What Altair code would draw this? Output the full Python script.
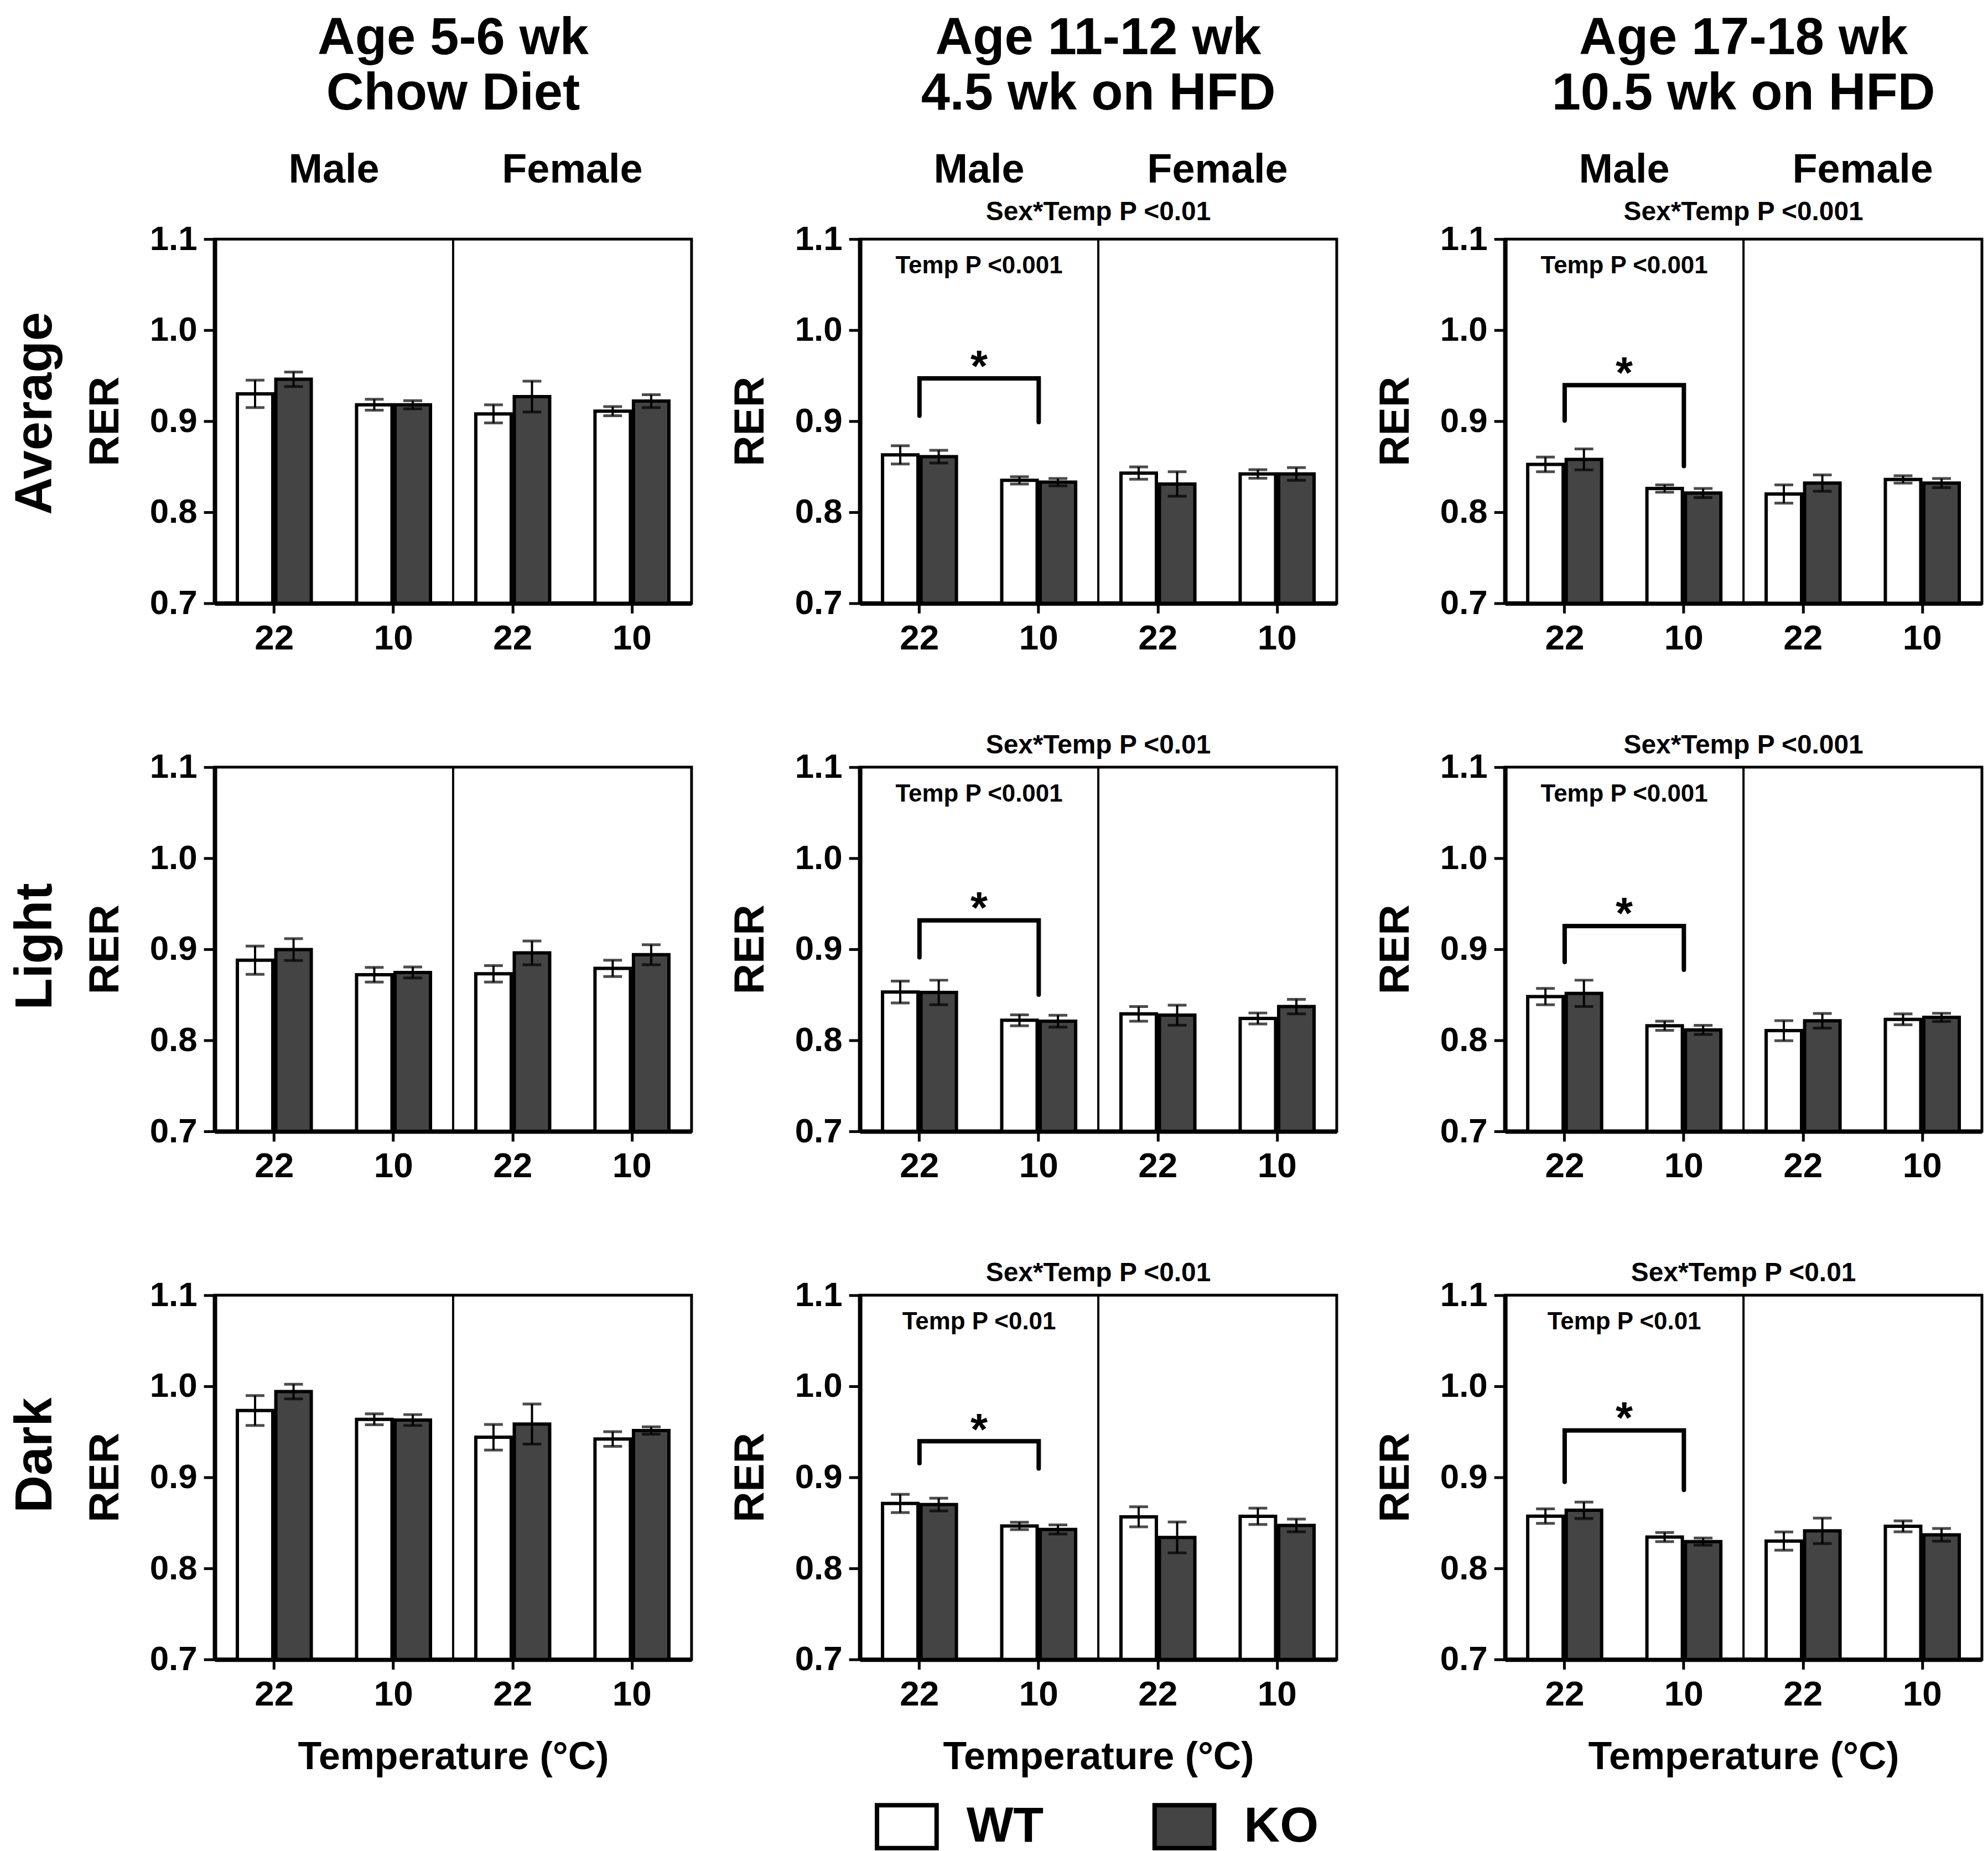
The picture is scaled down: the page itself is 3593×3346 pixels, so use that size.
import altair as alt
import pandas as pd

FONT = "Liberation Sans"
GROUPS = ["M22", "M10", "F22", "F10"]
GENOTYPES = ["WT", "KO"]
GENO_COLORS = ["#ffffff", "#444444"]
ROW_LABELS = ["Average", "Light", "Dark"]
COL_LINE1 = ["Age 5-6 wk", "Age 11-12 wk", "Age 17-18 wk"]
COL_LINE2 = ["Chow Diet", "4.5 wk on HFD", "10.5 wk on HFD"]
SEX_LABELS = ["Male", "Female"]
Y_TICKS = [0.7, 0.8, 0.9, 1.0, 1.1]

# ---- Average ----
AVG_CHOW_WT = [0.930, 0.918, 0.908, 0.911]
AVG_CHOW_WT_SEM = [0.015, 0.006, 0.010, 0.005]
AVG_CHOW_KO = [0.946, 0.918, 0.927, 0.922]
AVG_CHOW_KO_SEM = [0.008, 0.0045, 0.017, 0.007]

AVG_HFD45_WT = [0.863, 0.835, 0.843, 0.842]
AVG_HFD45_WT_SEM = [0.010, 0.004, 0.0067, 0.0047]
AVG_HFD45_KO = [0.861, 0.833, 0.831, 0.842]
AVG_HFD45_KO_SEM = [0.007, 0.004, 0.0135, 0.007]

AVG_HFD105_WT = [0.8525, 0.826, 0.820, 0.836]
AVG_HFD105_WT_SEM = [0.008, 0.004, 0.010, 0.004]
AVG_HFD105_KO = [0.858, 0.821, 0.832, 0.832]
AVG_HFD105_KO_SEM = [0.0115, 0.005, 0.009, 0.005]

# ---- Light ----
LIGHT_CHOW_WT = [0.888, 0.872, 0.873, 0.879]
LIGHT_CHOW_WT_SEM = [0.0155, 0.008, 0.009, 0.009]
LIGHT_CHOW_KO = [0.8996, 0.8745, 0.896, 0.894]
LIGHT_CHOW_KO_SEM = [0.012, 0.006, 0.013, 0.011]

LIGHT_HFD45_WT = [0.853, 0.822, 0.829, 0.824]
LIGHT_HFD45_WT_SEM = [0.012, 0.006, 0.008, 0.006]
LIGHT_HFD45_KO = [0.8525, 0.821, 0.8276, 0.837]
LIGHT_HFD45_KO_SEM = [0.0135, 0.0065, 0.011, 0.008]

LIGHT_HFD105_WT = [0.848, 0.816, 0.8106, 0.823]
LIGHT_HFD105_WT_SEM = [0.009, 0.005, 0.011, 0.006]
LIGHT_HFD105_KO = [0.8515, 0.8114, 0.8214, 0.8252]
LIGHT_HFD105_KO_SEM = [0.0145, 0.005, 0.008, 0.0045]

# ---- Dark ----
DARK_CHOW_WT = [0.9734, 0.9637, 0.944, 0.9421]
DARK_CHOW_WT_SEM = [0.0164, 0.006, 0.014, 0.008]
DARK_CHOW_KO = [0.9942, 0.9629, 0.9585, 0.9514]
DARK_CHOW_KO_SEM = [0.008, 0.006, 0.022, 0.004]

DARK_HFD45_WT = [0.8713, 0.8466, 0.8566, 0.8572]
DARK_HFD45_WT_SEM = [0.010, 0.004, 0.011, 0.009]
DARK_HFD45_KO = [0.8701, 0.8428, 0.834, 0.8472]
DARK_HFD45_KO_SEM = [0.007, 0.005, 0.017, 0.007]

DARK_HFD105_WT = [0.8574, 0.8344, 0.830, 0.8462]
DARK_HFD105_WT_SEM = [0.008, 0.005, 0.010, 0.006]
DARK_HFD105_KO = [0.8638, 0.8294, 0.8412, 0.8368]
DARK_HFD105_KO_SEM = [0.009, 0.004, 0.014, 0.007]

# significance brackets: [bar level, left leg end, right leg end, star level]
BR_AVG_HFD45 = [0.947, 0.906, 0.899, 0.972]
BR_AVG_HFD105 = [0.9396, 0.9006, 0.8507, 0.9645]
BR_LIGHT_HFD45 = [0.9317, 0.8912, 0.8501, 0.957]
BR_LIGHT_HFD105 = [0.9255, 0.886, 0.8775, 0.951]
BR_DARK_HFD45 = [0.9396, 0.9155, 0.9097, 0.964]
BR_DARK_HFD105 = [0.9515, 0.895, 0.8862, 0.9765]

SEXTEMP_TEXT = [[None, "Sex*Temp P <0.01", "Sex*Temp P <0.001"],
                [None, "Sex*Temp P <0.01", "Sex*Temp P <0.001"],
                [None, "Sex*Temp P <0.01", "Sex*Temp P <0.01"]]
TEMP_TEXT = [[None, "Temp P <0.001", "Temp P <0.001"],
             [None, "Temp P <0.001", "Temp P <0.001"],
             [None, "Temp P <0.01", "Temp P <0.01"]]

PANELS = [
    [(AVG_CHOW_WT, AVG_CHOW_WT_SEM, AVG_CHOW_KO, AVG_CHOW_KO_SEM),
     (AVG_HFD45_WT, AVG_HFD45_WT_SEM, AVG_HFD45_KO, AVG_HFD45_KO_SEM),
     (AVG_HFD105_WT, AVG_HFD105_WT_SEM, AVG_HFD105_KO, AVG_HFD105_KO_SEM)],
    [(LIGHT_CHOW_WT, LIGHT_CHOW_WT_SEM, LIGHT_CHOW_KO, LIGHT_CHOW_KO_SEM),
     (LIGHT_HFD45_WT, LIGHT_HFD45_WT_SEM, LIGHT_HFD45_KO, LIGHT_HFD45_KO_SEM),
     (LIGHT_HFD105_WT, LIGHT_HFD105_WT_SEM, LIGHT_HFD105_KO, LIGHT_HFD105_KO_SEM)],
    [(DARK_CHOW_WT, DARK_CHOW_WT_SEM, DARK_CHOW_KO, DARK_CHOW_KO_SEM),
     (DARK_HFD45_WT, DARK_HFD45_WT_SEM, DARK_HFD45_KO, DARK_HFD45_KO_SEM),
     (DARK_HFD105_WT, DARK_HFD105_WT_SEM, DARK_HFD105_KO, DARK_HFD105_KO_SEM)],
]
BRACKETS = [[None, BR_AVG_HFD45, BR_AVG_HFD105],
            [None, BR_LIGHT_HFD45, BR_LIGHT_HFD105],
            [None, BR_DARK_HFD45, BR_DARK_HFD105]]

# ---- layout constants ----
W, H = 864, 660
COLGAP, ROWGAP = 305, 297
SEXTEMP_Y = [-34, -25, -25]
ROW_LABEL_DY = [-14, -5, -40]

XSC = alt.Scale(domain=GROUPS, paddingInner=0.38, paddingOuter=0.19)
YSC = alt.Scale(domain=[0.7, 1.1], zero=False, nice=False)
OSC = alt.Scale(domain=GENOTYPES, paddingInner=0.08, paddingOuter=0.0)

YAX = alt.Axis(values=Y_TICKS, format=".1f", title="RER", labelFontSize=62,
               labelPadding=12, tickSize=20, tickWidth=5, domainWidth=8,
               titleFontSize=77, titlePadding=41, labelFlush=False,
               labelOverlap=False)

SYMBOL = "M-1,-0.72L1,-0.72L1,0.72L-1,0.72Z"
LEG = alt.Legend(title=None, orient="none", legendX=1196, legendY=2819,
                 direction="horizontal", symbolType=SYMBOL, symbolSize=11664,
                 symbolStrokeWidth=8, symbolStrokeColor="black",
                 labelFontSize=90, labelFont=FONT, labelFontWeight="bold",
                 labelColor="black", labelOffset=50, columnPadding=185,
                 labelLimit=500)


def xaxis(bottom):
    return alt.Axis(labelExpr="substring(datum.value, 1, 3)", labelAngle=0,
                    labelFontSize=64, labelPadding=14, tickSize=18, tickWidth=5,
                    domainWidth=8, titleFontSize=70, titlePadding=47,
                    title="Temperature (°C)" if bottom else None)


def text_layer(text, x, y, size, **kw):
    return alt.Chart(pd.DataFrame({"t": [text]})).mark_text(
        font=FONT, fontWeight="bold", fontSize=size, color="black", **kw
    ).encode(text="t:N", x=alt.value(x), y=alt.value(y))


def panel(r, c):
    wt, wts, ko, kos = PANELS[r][c]
    recs = []
    for i, g in enumerate(GROUPS):
        for geno, m, s in (("WT", wt[i], wts[i]), ("KO", ko[i], kos[i])):
            recs.append({"group": g, "geno": geno, "mean": m,
                         "lo": m - s, "hi": m + s})
    df = pd.DataFrame(recs)
    xa = xaxis(r == 2)

    def X():
        return alt.X("group:N", scale=XSC, axis=xa)

    def XO():
        return alt.XOffset("geno:N", scale=OSC)

    def Y(f):
        return alt.Y(f"{f}:Q", scale=YSC, axis=YAX)

    base = alt.Chart(df)
    bars = base.mark_bar(stroke="black", strokeWidth=6).encode(
        x=X(), xOffset=XO(), y=Y("mean"), y2=alt.datum(0.7),
        fill=alt.Fill("geno:N", scale=alt.Scale(domain=GENOTYPES, range=GENO_COLORS),
                      legend=LEG))
    err = base.mark_rule(color="black", strokeWidth=4).encode(
        x=X(), xOffset=XO(), y=Y("lo"), y2="hi:Q")
    cap_lo = base.mark_tick(color="black", thickness=5, size=34, orient="horizontal").encode(
        x=X(), xOffset=XO(), y=Y("lo"))
    cap_hi = base.mark_tick(color="black", thickness=5, size=34, orient="horizontal").encode(
        x=X(), xOffset=XO(), y=Y("hi"))
    divider = alt.Chart(pd.DataFrame({"d": [0]})).mark_rule(color="black", strokeWidth=4).encode(
        x=alt.value(W / 2), y=alt.value(0), y2=alt.value(H))
    layers = [bars, err, cap_lo, cap_hi, divider]

    br = BRACKETS[r][c]
    if br is not None:
        bdf = pd.DataFrame({"group": ["M22", "M22", "M10", "M10"],
                            "y": [br[1], br[0], br[0], br[2]],
                            "o": [0, 1, 2, 3]})
        layers.append(alt.Chart(bdf).mark_line(color="black", strokeWidth=8,
                                               strokeCap="round", strokeJoin="miter").encode(
            x=X(), y=Y("y"), order="o:Q"))
        sdf = pd.DataFrame({"t": ["*"], "y": [br[3]]})
        layers.append(alt.Chart(sdf).mark_text(font=FONT, fontWeight="bold", fontSize=80,
                                               color="black", dy=46, baseline="alphabetic").encode(
            text="t:N", x=alt.value(W / 4), y=Y("y")))
    if TEMP_TEXT[r][c]:
        layers.append(text_layer(TEMP_TEXT[r][c], W / 4, 62, 44, baseline="alphabetic"))
    if SEXTEMP_TEXT[r][c]:
        layers.append(text_layer(SEXTEMP_TEXT[r][c], W / 2, SEXTEMP_Y[r], 48, baseline="alphabetic"))
    if r == 0:
        layers.append(text_layer(SEX_LABELS[0], W / 4, -102, 74, baseline="alphabetic"))
        layers.append(text_layer(SEX_LABELS[1], 3 * W / 4, -102, 74, baseline="alphabetic"))
        layers.append(text_layer(COL_LINE1[c], W / 2, -335, 94, baseline="alphabetic"))
        layers.append(text_layer(COL_LINE2[c], W / 2, -235, 94, baseline="alphabetic"))
    if c == 0:
        layers.append(text_layer(ROW_LABELS[r], -296, H / 2 + ROW_LABEL_DY[r], 94,
                                 baseline="alphabetic", angle=270, align="center"))
    return alt.layer(*layers).properties(width=W, height=H)


panels = [panel(r, c) for r in range(3) for c in range(3)]

chart = alt.ConcatChart(
    concat=panels, columns=3, bounds="flush",
    spacing={"row": ROWGAP, "column": COLGAP},
    padding={"left": 7, "top": 8, "right": 0, "bottom": 0},
).configure_view(
    stroke="black", strokeWidth=5
).configure_axis(
    labelFont=FONT, titleFont=FONT, labelFontWeight="bold", titleFontWeight="bold",
    labelColor="black", titleColor="black", domainColor="black", tickColor="black",
    grid=False
)

chart.save("out.html", embed_options={"renderer": "svg", "actions": False})
